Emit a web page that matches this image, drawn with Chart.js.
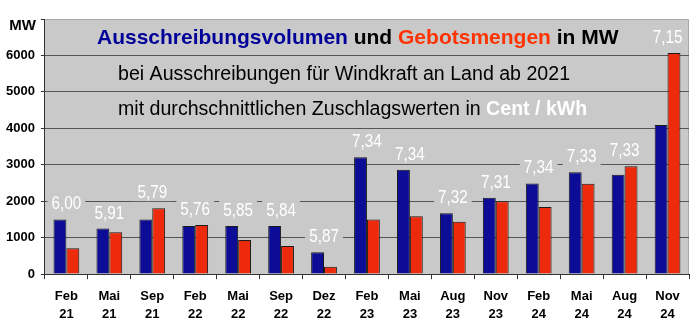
<!DOCTYPE html>
<html>
<head>
<meta charset="utf-8">
<script src="https://cdn.jsdelivr.net/npm/chart.js@4"></script>
<style>
  html, body { margin: 0; padding: 0; background: #fff; }
  #wrap { width: 700px; height: 327px; }
</style>
</head>
<body>
<div id="wrap"><canvas id="windChart" width="700" height="327"></canvas></div>
<script>
const categories = [["Feb", "21"], ["Mai", "21"], ["Sep", "21"], ["Feb", "22"], ["Mai", "22"], ["Sep", "22"], ["Dez", "22"],
  ["Feb", "23"], ["Mai", "23"], ["Aug", "23"], ["Nov", "23"], ["Feb", "24"], ["Mai", "24"], ["Aug", "24"], ["Nov", "24"]]
const volumen = [1500, 1250, 1500, 1320, 1320, 1320, 600, 3210, 2866, 1667, 2093, 2486, 2795, 2726, 4094]
const gebote = [710, 1150, 1810, 1350, 935, 770, 200, 1500, 1590, 1440, 2000, 1840, 2480, 2960, 6070]
const zuschlag = ["6,00", "5,91", "5,79", "5,76", "5,85", "5,84", "5,87", "7,34", "7,34", "7,32", "7,31", "7,34", "7,33", "7,33", "7,15"]
const yTicks = [0, 1000, 2000, 3000, 4000, 5000, 6000, 7000]

const plotBg = "#c9c9c9"
const ctx = document.getElementById("windChart").getContext("2d")

// grey plot area behind the bars
const bgPlugin = {
  id: "plotBg",
  beforeDraw(chart) {
    const a = chart.chartArea
    const c = chart.ctx
    c.save()
    c.fillStyle = plotBg
    c.fillRect(a.left, a.top, a.right - a.left, a.bottom - a.top)
    c.strokeStyle = "#a8a8a8"
    c.lineWidth = 1
    c.beginPath()
    c.moveTo(a.left, a.top + 0.5)
    c.lineTo(a.right - 0.5, a.top + 0.5)
    c.lineTo(a.right - 0.5, a.bottom)
    c.stroke()
    c.restore()
  }
}

// white price labels over each pair of bars + title lines
const textPlugin = {
  id: "texts",
  afterDatasetsDraw(chart) {
    const c = chart.ctx
    const y = chart.scales.y
    const meta0 = chart.getDatasetMeta(0)
    const meta1 = chart.getDatasetMeta(1)
    c.save()
    c.font = "18px 'Liberation Sans', Arial"
    c.textAlign = "center"
    c.textBaseline = "middle"
    zuschlag.forEach((txt, i) => {
      const x = (meta0.data[i].x + meta1.data[i].x) / 2
      const yy = y.getPixelForValue(Math.max(volumen[i], gebote[i])) - 16
      const w = c.measureText(txt).width * 0.85 + 8
      c.fillStyle = plotBg
      c.fillRect(x - w / 2, yy - 9, w, 18)
      c.save()
      c.translate(x, yy)
      c.scale(0.85, 1)
      c.fillStyle = "#ffffff"
      c.fillText(txt, 0, 1)
      c.restore()
    })
    c.restore()
  },
  afterDraw(chart) {
    const c = chart.ctx
    c.save()
    c.textBaseline = "middle"
    function segs(parts, x, yy, font) {
      c.font = font
      parts.forEach(p => {
        if (p.font) c.font = p.font
        c.fillStyle = p.color
        c.fillText(p.text, x, yy)
        x += c.measureText(p.text).width
        c.font = font
      })
    }
    const bold = "bold 21px 'Liberation Sans', Arial"
    segs([
      { text: "Ausschreibungsvolumen", color: "#000099" },
      { text: " und ", color: "#000000" },
      { text: "Gebotsmengen", color: "#ff3300" },
      { text: " in MW", color: "#000000" }
    ], 97, 38, bold)
    const norm = "19.6px 'Liberation Sans', Arial"
    segs([{ text: "bei Ausschreibungen für Windkraft an Land ab 2021", color: "#000000" }], 118, 75, norm)
    segs([
      { text: "mit durchschnittlichen Zuschlagswerten in ", color: "#000000" },
      { text: "Cent / kWh", color: "#ffffff", font: "bold 19.6px 'Liberation Sans', Arial" }
    ], 118, 110, norm)
    // unit above the y axis
    c.font = "bold 15px 'Liberation Sans', Arial"
    c.textAlign = "right"
    c.fillStyle = "#000000"
    c.fillText("MW", 36, 26)
    c.restore()
  }
}

const myChart = new Chart(ctx, {
  type: "bar",
  data: {
    labels: categories,
    datasets: [
      {
        label: "Ausschreibungsvolumen",
        data: volumen,
        backgroundColor: "#0c0c96",
        borderColor: "#1a1a1a",
        borderWidth: 1,
        categoryPercentage: 0.6,
        barPercentage: 1.0
      },
      {
        label: "Gebotsmengen",
        data: gebote,
        backgroundColor: "#ee2a0c",
        borderColor: "#1a1a1a",
        borderWidth: 1,
        categoryPercentage: 0.6,
        barPercentage: 1.0
      }
    ]
  },
  options: {
    responsive: false,
    animation: false,
    layout: { padding: { top: 19, right: 11, left: 0, bottom: -4 } },
    plugins: {
      legend: { display: false },
      tooltip: { enabled: false },
      title: { display: false }
    },
    scales: {
      x: {
        offset: true,
        grid: {
          offset: true,
          drawOnChartArea: false,
          drawTicks: true,
          tickLength: 5,
          color: "#333333"
        },
        border: { color: "#333333", width: 1 },
        ticks: {
          color: "#000000",
          font: { family: "'Liberation Sans', Arial", size: 13, weight: "bold", lineHeight: 1.38 },
          maxRotation: 0,
          autoSkip: false,
          padding: 8
        }
      },
      y: {
        min: 0,
        max: 7000,
        afterBuildTicks(scale) {
          scale.ticks = yTicks.map(v => ({ value: v }))
        },
        grid: {
          color: (c) => c.tick && c.tick.value === 7000 ? "rgba(0,0,0,0)" : "#555555",
          lineWidth: 1,
          tickLength: 4,
          tickColor: "#333333"
        },
        border: { color: "#333333", width: 1 },
        ticks: {
          color: "#000000",
          font: { family: "'Liberation Sans', Arial", size: 13, weight: "bold" },
          padding: 6,
          callback: (v) => v === 7000 ? "" : String(v)
        }
      }
    }
  },
  plugins: [bgPlugin, textPlugin]
})
</script>
</body>
</html>
